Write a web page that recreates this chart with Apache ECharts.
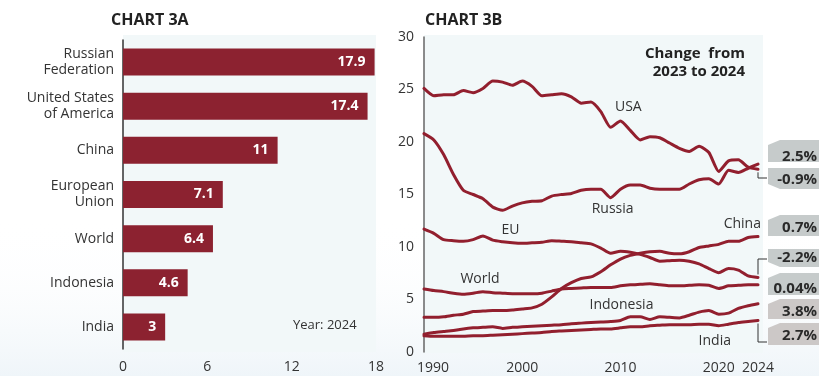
<!DOCTYPE html>
<html>
<head>
<meta charset="utf-8">
<script src="https://cdn.jsdelivr.net/npm/echarts@6/dist/echarts.min.js"></script>
<style>
body { margin: 0; background: #fff; }
#chart { width: 819px; height: 376px; }
</style>
</head>
<body>
<div id="chart"></div>
<script>
// chart 3A
const countries = ['Russian\nFederation', 'United States\nof America', 'China', 'European\nUnion', 'World', 'Indonesia', 'India']
const values2024 = [17.9, 17.4, 11, 7.1, 6.4, 4.6, 3]

// chart 3B
const years = [1990, 1991, 1992, 1993, 1994, 1995, 1996, 1997, 1998, 1999, 2000, 2001, 2002, 2003, 2004, 2005, 2006,
  2007, 2008, 2009, 2010, 2011, 2012, 2013, 2014, 2015, 2016, 2017, 2018, 2019, 2020, 2021, 2022, 2023, 2024]
const yearTicks = [1990, 2000, 2010, 2020, 2024]
const usa = [25.1, 24.4, 24.5, 24.5, 24.9, 24.7, 25.1, 25.8, 25.7, 25.4, 25.8, 25.3, 24.4, 24.5, 24.6, 24.3, 23.7,
  23.8, 22.9, 21.4, 22.0, 21.1, 20.2, 20.5, 20.4, 19.9, 19.4, 19.1, 19.6, 19.0, 17.2, 18.2, 18.3, 17.6, 17.4]
const russia = [20.8, 20.2, 18.8, 16.9, 15.4, 15.0, 14.6, 13.8, 13.5, 13.9, 14.2, 14.35, 14.4, 14.85, 15.0, 15.1, 15.4,
  15.5, 15.5, 14.7, 15.5, 15.9, 15.9, 15.6, 15.5, 15.5, 15.5, 16.0, 16.4, 16.5, 16.0, 17.3, 17.1, 17.5, 17.9]
const eu = [11.7, 11.3, 10.7, 10.6, 10.55, 10.7, 11.05, 10.65, 10.5, 10.4, 10.35, 10.4, 10.45, 10.6, 10.55, 10.5, 10.4,
  10.3, 9.9, 9.4, 9.6, 9.5, 9.3, 9.0, 8.65, 8.7, 8.75, 8.65, 8.4, 7.95, 7.55, 7.95, 7.8, 7.25, 7.1]
const china = [3.3, 3.3, 3.35, 3.5, 3.6, 3.85, 3.9, 3.95, 3.95, 4.0, 4.1, 4.2, 4.55, 5.25, 6.05, 6.6, 7.0,
  7.15, 7.65, 8.3, 8.85, 9.2, 9.4, 9.55, 9.6, 9.4, 9.35, 9.55, 9.95, 10.1, 10.25, 10.55, 10.55, 10.9, 11.0]
const world = [6.0, 5.85, 5.75, 5.6, 5.5, 5.6, 5.75, 5.65, 5.6, 5.55, 5.55, 5.55, 5.6, 5.8, 6.0, 6.05, 6.1,
  6.15, 6.15, 6.15, 6.3, 6.4, 6.45, 6.5, 6.4, 6.3, 6.3, 6.35, 6.4, 6.35, 6.05, 6.3, 6.35, 6.4, 6.4]
const indonesia = [1.7, 1.85, 1.95, 2.05, 2.2, 2.3, 2.35, 2.4, 2.25, 2.35, 2.4, 2.45, 2.5, 2.55, 2.6, 2.7, 2.75,
  2.8, 2.85, 2.9, 3.0, 3.35, 3.35, 3.1, 3.35, 3.3, 3.25, 3.5, 3.8, 3.95, 3.6, 3.7, 4.15, 4.4, 4.6]
const india = [1.55, 1.5, 1.5, 1.5, 1.5, 1.55, 1.55, 1.6, 1.65, 1.7, 1.75, 1.8, 1.85, 1.95, 2.0, 2.05, 2.1,
  2.15, 2.2, 2.2, 2.3, 2.4, 2.4, 2.5, 2.55, 2.6, 2.6, 2.6, 2.65, 2.65, 2.5, 2.65, 2.8, 2.9, 3.0]
const changes = ['2.5%', '-0.9%', '0.7%', '-2.2%', '0.04%', '3.8%', '2.7%']

const font = "'Open Sans', 'Noto Sans', sans-serif"
const red = '#921f2e'
const text = '#333'

const chart = echarts.init(document.getElementById('chart'))

function lineSeries(name, values, labelAt) {
  return {
    name: name,
    type: 'line',
    xAxisIndex: 1,
    yAxisIndex: 1,
    data: years.map((y, i) => [y, values[i]]),
    showSymbol: false,
    smooth: 0.2,
    lineStyle: { color: red, width: 3, join: 'round', cap: 'round' },
    markPoint: {
      symbolSize: 0,
      silent: true,
      label: { show: true, position: 'inside', formatter: '{b}', color: text, fontSize: 14, fontFamily: font },
      data: [{ name: name, coord: labelAt }]
    }
  }
}

// change badges at the right edge
const badgeLayout = [
  [140, 162, 157, 'up'], [168, 189, 180, 'down'], [215, 236, 228, 'up'], [249, 267, 258, 'down'],
  [273, 295, 289, 'up'], [299, 319, 312, 'up'], [323, 345, 336, 'up']
]
const badges = []
badgeLayout.forEach((b, i) => {
  const [top, bot, mid, dir] = b
  const pts = dir === 'up'
    ? [[768, bot], [768, top + 5], [780, top], [840, top], [840, bot]]
    : [[768, top], [768, bot - 5], [780, bot], [840, bot], [840, top]]
  badges.push({
    type: 'polygon', shape: { points: pts }, z: 5,
    style: { fill: i >= 5 ? '#ccc8c7' : '#c6cbcb', stroke: null }
  })
  badges.push({
    type: 'text', x: 817, y: mid, z: 6,
    style: { text: changes[i], fill: '#2a2a2a', font: 'bold 15px ' + font, align: 'right', verticalAlign: 'middle' }
  })
})

const option = {
  animation: false,
  backgroundColor: '#fff',
  grid: [
    { left: 123, top: 40, width: 253, height: 309 },
    { left: 424, top: 37, width: 334, height: 315 }
  ],
  xAxis: [
    {
      gridIndex: 0, type: 'value', min: 0, max: 18, interval: 6,
      axisLine: { show: false }, axisTick: { show: false }, splitLine: { show: false },
      axisLabel: { color: text, fontSize: 14, fontFamily: font, margin: 11 }
    },
    {
      gridIndex: 1, type: 'value', min: 1990, max: 2024,
      axisLine: { show: false }, axisTick: { show: false }, splitLine: { show: false },
      axisLabel: {
        customValues: yearTicks,
        color: text, fontSize: 14, fontFamily: font, margin: 9,
        formatter: v => v === 1990 ? '{first|1990}' : String(v),
        rich: { first: { padding: [0, 0, 0, 18], fontSize: 14, fontFamily: font, color: text } }
      }
    }
  ],
  yAxis: [
    {
      gridIndex: 0, type: 'category', data: countries, inverse: true,
      axisLine: { show: true, lineStyle: { color: '#333', width: 1.5 } },
      axisTick: { show: false },
      axisLabel: { color: text, fontSize: 14, fontFamily: font, lineHeight: 16, margin: 9 }
    },
    {
      gridIndex: 1, type: 'value', min: 0, max: 30, interval: 5,
      axisLine: { show: true, lineStyle: { color: '#666', width: 1.5 } },
      axisTick: { show: false }, splitLine: { show: false },
      axisLabel: { color: text, fontSize: 14, fontFamily: font, margin: 10 }
    }
  ],
  series: [
    {
      type: 'bar',
      xAxisIndex: 0,
      yAxisIndex: 0,
      data: values2024,
      barWidth: 27,
      itemStyle: { color: '#8c2230' },
      label: {
        show: true, position: 'insideRight', distance: 9,
        color: '#fff', fontSize: 14, fontWeight: 'bold', fontFamily: font
      }
    },
    lineSeries('USA', usa, [2010.8, 23.3]),
    lineSeries('Russia', russia, [2009.2, 13.6]),
    lineSeries('EU', eu, [1998.8, 11.6]),
    lineSeries('China', china, [2022.4, 12.2]),
    lineSeries('World', world, [1995.7, 6.95]),
    lineSeries('Indonesia', indonesia, [2010.1, 4.5]),
    lineSeries('India', india, [2019.6, 1.05])
  ],
  graphic: [
    {
      type: 'rect', z: -10, shape: { x: 0, y: 220, width: 819, height: 156 },
      style: {
        stroke: null,
        fill: new echarts.graphic.LinearGradient(0, 1, 0, 0, [
          { offset: 0, color: 'rgba(220,233,242,0.45)' },
          { offset: 1, color: 'rgba(255,255,255,0)' }
        ])
      }
    },
    { type: 'rect', z: -5, shape: { x: 123, y: 35, width: 253, height: 317 }, style: { fill: '#f2f8f9', stroke: null } },
    { type: 'rect', z: -5, shape: { x: 424, y: 35, width: 339, height: 318 }, style: { fill: '#f2f8f9', stroke: null } },
    { type: 'text', x: 111, y: 12, style: { text: 'CHART 3A', fill: '#222', font: 'bold 16px ' + font } },
    { type: 'text', x: 425, y: 12, style: { text: 'CHART 3B', fill: '#222', font: 'bold 16px ' + font } },
    {
      type: 'text', x: 745, y: 45,
      style: { text: 'Change  from\n2023 to 2024', fill: '#222', font: 'bold 15px ' + font, align: 'right', lineHeight: 18 }
    },
    { type: 'text', x: 293, y: 319, style: { text: 'Year: 2024', fill: text, font: '13px ' + font } }
  ].concat(badges)
}

chart.setOption(option)

// connectors from line ends to the badges
const endOf = vals => chart.convertToPixel({ gridIndex: 1 }, [2024, vals[vals.length - 1]])
const pUsa = endOf(usa)
const pEu = endOf(eu)
const pIndia = endOf(india)
const conn = { stroke: '#333', lineWidth: 1, fill: null }
chart.setOption({
  graphic: [
    { id: 'connUsa', type: 'polyline', z: 4, shape: { points: [[pUsa[0], pUsa[1] + 3], [pUsa[0], 178], [767, 178]] }, style: conn },
    { id: 'connEu', type: 'polyline', z: 4, shape: { points: [[767, 259], [pEu[0], 259], [pEu[0], pEu[1] - 3]] }, style: conn },
    { id: 'connIndia', type: 'polyline', z: 4, shape: { points: [[pIndia[0], pIndia[1] + 3], [pIndia[0], 342], [767, 342]] }, style: conn }
  ]
})
</script>
</body>
</html>
